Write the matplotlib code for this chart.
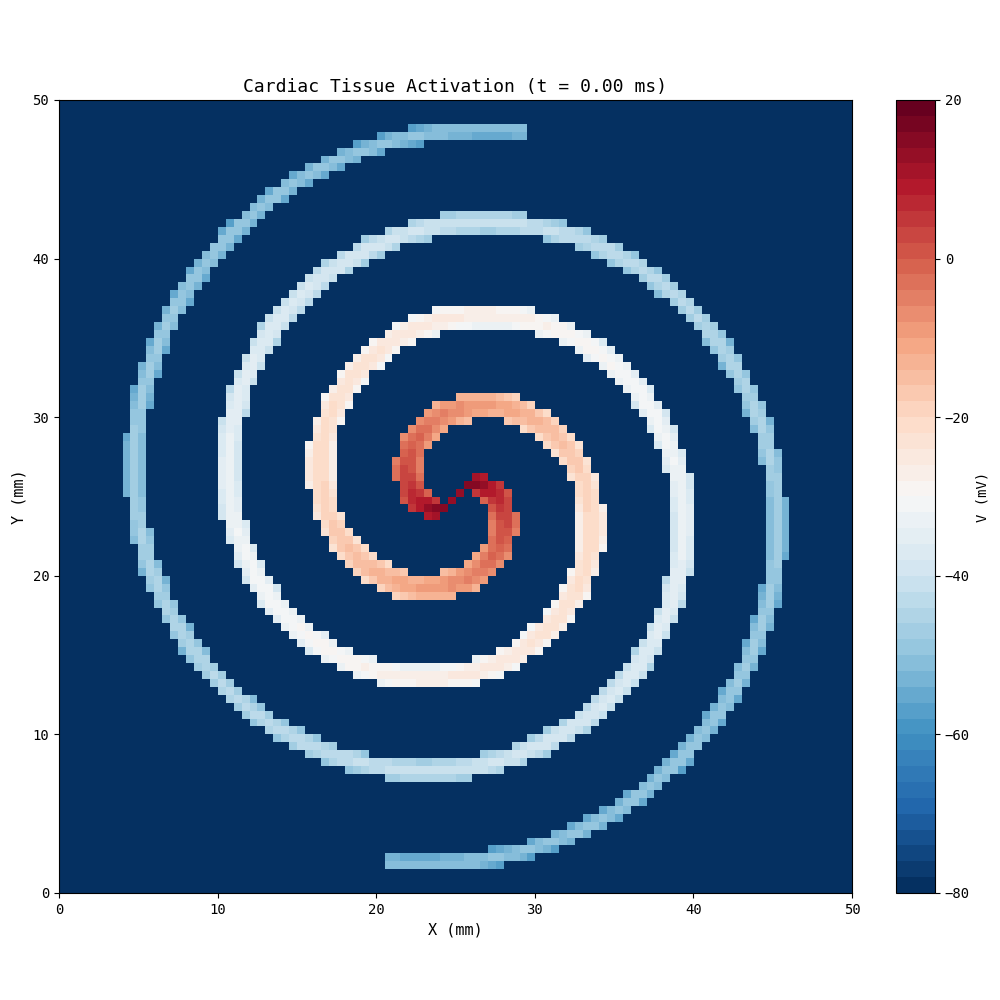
import numpy as np
import matplotlib.pyplot as plt

plt.rcParams['font.family'] = ['DejaVu Sans Mono', 'DejaVu Sans']

# grid and spiral parameters
n_cells = 100
size_mm = 50.0
center = [25.0, 25.0]
pitch = 11.8                  # radial gain per full turn (mm)
arm_start = [13.87, 13.87 + np.pi]   # angle offsets of the two arms (rad)
s_range = [0.3, 12.5]        # arc parameter span of each arm
half_width = [1.0, 0.55]     # band half width at inner / outer end (mm)

# membrane voltage along the arm vs radius
radius_pts = [0, 1.5, 3, 5, 8, 11, 14, 17, 20.5, 24]
voltage_pts = [18, 14, 5, -5, -18, -25, -32, -40, -47, -51]
rest_v = -80.0

b = pitch / (2 * np.pi)
xs = (np.arange(n_cells) + 0.5) * size_mm / n_cells
X, Y = np.meshgrid(xs, xs)
dx, dy = X - center[0], Y - center[1]
R = np.hypot(dx, dy)
T = np.arctan2(dy, dx)

V = np.full(R.shape, rest_v)
for a0 in arm_start:
    for k in range(-4, 6):
        s = a0 - T + 2 * np.pi * k
        ok = (s >= s_range[0]) & (s <= s_range[1])
        r_arm = b * s
        hw = np.interp(r_arm, [0, 24], half_width)
        d = np.abs(R - r_arm)
        inside = ok & (d <= hw)
        val = np.interp(r_arm, radius_pts, voltage_pts) - 8 * (d / hw) ** 2
        V = np.where(inside, np.maximum(V, val), V)

fig = plt.figure(figsize=(10, 10), dpi=100)
ax = fig.add_axes([0.059, 0.107, 0.793, 0.793])
cax = fig.add_axes([0.896, 0.107, 0.039, 0.793])
im = ax.imshow(V, origin='lower', extent=[0, size_mm, 0, size_mm],
               cmap=plt.get_cmap('RdBu_r', 50), vmin=-80, vmax=20,
               interpolation='nearest', aspect='auto')
ax.set_title('Cardiac Tissue Activation (t = 0.00 ms)', fontsize=13)
ax.set_xlabel('X (mm)', fontsize=11)
ax.set_ylabel('Y (mm)', fontsize=11)
cb = fig.colorbar(im, cax=cax)
cb.set_label('V (mV)')
fig.savefig('out.png')
